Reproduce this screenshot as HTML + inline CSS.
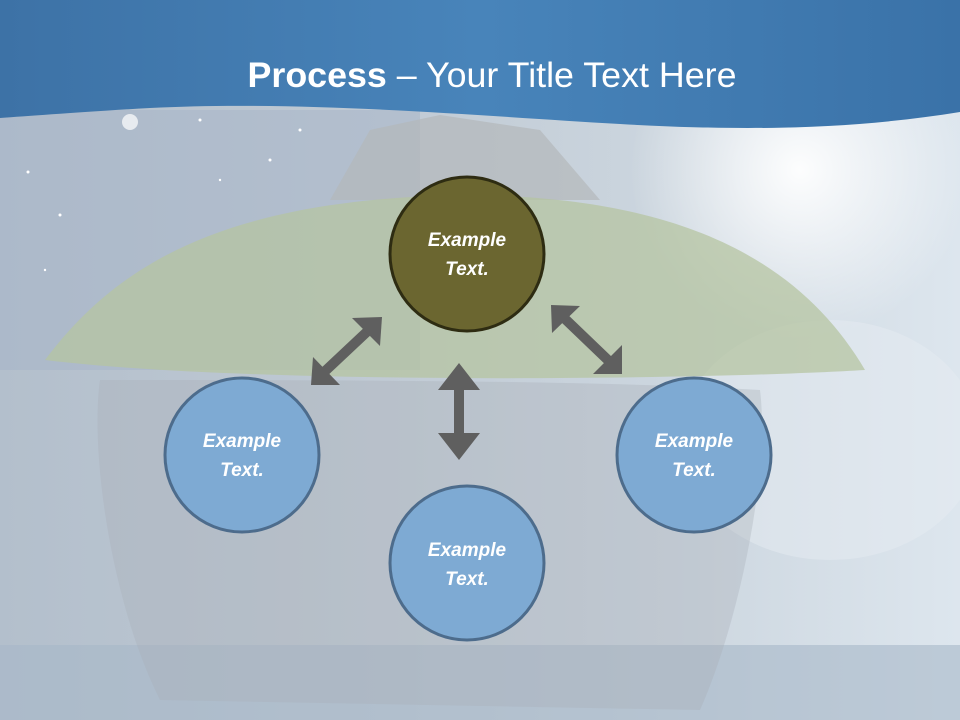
<!DOCTYPE html>
<html><head><meta charset="utf-8"><style>
html,body{margin:0;padding:0}
body{width:960px;height:720px;overflow:hidden;position:relative;font-family:"Liberation Sans",sans-serif;
background:linear-gradient(90deg,#b3bfcc 0%,#c0cad4 40%,#ccd6df 70%,#dde6ee 100%);}
</style></head><body>
<svg width="960" height="720" style="position:absolute;left:0;top:0">
<defs>
<radialGradient id="sun" cx="800" cy="170" r="170" gradientUnits="userSpaceOnUse"><stop offset="0" stop-color="#fff" stop-opacity="0.95"/><stop offset="1" stop-color="#fff" stop-opacity="0"/></radialGradient>
<linearGradient id="hdr" x1="0" y1="0" x2="1" y2="0"><stop offset="0" stop-color="#3d72a6"/><stop offset="0.5" stop-color="#4884ba"/><stop offset="1" stop-color="#3a72a8"/></linearGradient>
</defs>
<rect x="0" y="110" width="420" height="260" fill="#a6b4c8" opacity="0.5"/>
<circle cx="800" cy="170" r="170" fill="url(#sun)"/>
<ellipse cx="830" cy="440" rx="150" ry="120" fill="#e6ecf2" opacity="0.5"/>
<rect x="0" y="645" width="960" height="75" fill="#a7b8c8" opacity="0.6"/>
<path d="M330 200 L370 130 L440 115 L540 130 L600 200 Z" fill="#b4b8ba" opacity="0.7"/>
<path d="M45 360 C120 260 230 200 460 195 C680 195 800 260 865 370 C700 380 250 385 45 360 Z" fill="#b6c4a2" opacity="0.75"/>
<path d="M100 380 C90 450 110 600 160 700 L700 710 C740 620 770 470 760 390 C600 380 300 380 100 380 Z" fill="#a9b0b6" opacity="0.35"/>
<path d="M0 0 H960 V112 C860 128 760 132 620 124 C480 116 300 100 150 108 C80 112 30 116 0 118 Z" fill="url(#hdr)"/>
<g fill="#fff"><circle cx="130" cy="122" r="8" opacity="0.7"/><circle cx="28" cy="172" r="1.5"/><circle cx="60" cy="215" r="1.5"/><circle cx="200" cy="120" r="1.5"/><circle cx="270" cy="160" r="1.5"/><circle cx="220" cy="180" r="1.2"/><circle cx="45" cy="270" r="1.2"/><circle cx="300" cy="130" r="1.5"/></g>
<g stroke="#5f5f5f" stroke-width="10" fill="#5f5f5f">
<line x1="322" y1="374" x2="371" y2="328"/>
<line x1="562" y1="316" x2="611" y2="363"/>
<line x1="459" y1="385" x2="459" y2="438"/>
</g>
<g fill="#5f5f5f">
<polygon points="382,317 380,346 352,318"/>
<polygon points="311,385 313,357 340,385"/>
<polygon points="551,305 580,306 552,333"/>
<polygon points="622,374 593,374 622,345"/>
<polygon points="459,363 438,390 480,390"/>
<polygon points="459,460 438,433 480,433"/>
</g>
<circle cx="467" cy="254" r="77" fill="#6b6630" stroke="#2e2c12" stroke-width="3"/>
<circle cx="242" cy="455" r="77" fill="#7eaad3" stroke="#4d6c8c" stroke-width="3"/>
<circle cx="694" cy="455" r="77" fill="#7eaad3" stroke="#4d6c8c" stroke-width="3"/>
<circle cx="467" cy="563" r="77" fill="#7eaad3" stroke="#4d6c8c" stroke-width="3"/>
<g fill="#fff" font-family="Liberation Sans, sans-serif" font-size="19" font-weight="bold" font-style="italic" text-anchor="middle">
<text x="467" y="246">Example</text><text x="467" y="275">Text.</text>
<text x="242" y="447">Example</text><text x="242" y="476">Text.</text>
<text x="694" y="447">Example</text><text x="694" y="476">Text.</text>
<text x="467" y="556">Example</text><text x="467" y="585">Text.</text>
</g>
<text x="492" y="87" fill="#fff" font-family="Liberation Sans, sans-serif" font-size="35" text-anchor="middle" textLength="489" lengthAdjust="spacingAndGlyphs"><tspan font-weight="bold">Process</tspan> – Your Title Text Here</text>
</svg>
</body></html>
